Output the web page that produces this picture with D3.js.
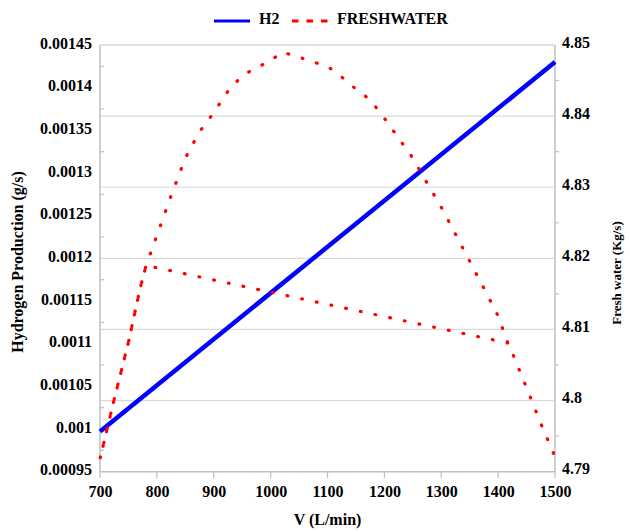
<!DOCTYPE html>
<html>
<head>
<meta charset="utf-8">
<script src="https://cdn.jsdelivr.net/npm/d3@7"></script>
<style>
  body { margin: 0; background: #fff; }
  svg text { font-family: "Liberation Serif", "Times New Roman", serif; font-weight: bold; fill: #000; }
</style>
</head>
<body>
<svg id="chart" width="630" height="532"></svg>
<script>
// Flow rate V (L/min) and hydrogen production (g/s)
const h2Flow = [700, 1500];
const h2Production = [0.000997, 0.00143];

// Fresh water (kg/s) along the operating path, in path order
const freshFlow = [1417, 781, 770, 750, 725, 700, 725, 750, 770, 781, 800, 825, 850, 875, 900,
  925, 950, 975, 1000, 1020, 1050, 1075, 1100, 1125, 1150, 1175, 1200, 1225, 1250, 1275,
  1300, 1325, 1350, 1375, 1400, 1417, 1425, 1450, 1475, 1500];
const freshWater = [4.8081, 4.8190, 4.8156, 4.8082, 4.8002, 4.7918, 4.8002, 4.8082, 4.8156, 4.8190,
  4.8232, 4.8288, 4.8341, 4.8378, 4.8405, 4.8435, 4.8457, 4.8468, 4.8478, 4.8490, 4.8483,
  4.8476, 4.8470, 4.8455, 4.8438, 4.8423, 4.8397, 4.8369, 4.8341, 4.8306, 4.8272, 4.8234,
  4.8196, 4.8158, 4.8119, 4.8081, 4.8067, 4.8018, 4.7968, 4.7921];

// Tick labels
const xTicks = [700, 800, 900, 1000, 1100, 1200, 1300, 1400, 1500];
const leftTicks = [0.00095, 0.001, 0.00105, 0.0011, 0.00115, 0.0012, 0.00125, 0.0013, 0.00135, 0.0014, 0.00145];
const leftLabels = ["0.00095", "0.001", "0.00105", "0.0011", "0.00115", "0.0012", "0.00125", "0.0013", "0.00135", "0.0014", "0.00145"];
const rightTicks = [4.79, 4.80, 4.81, 4.82, 4.83, 4.84, 4.85];
const rightLabels = ["4.79", "4.8", "4.81", "4.82", "4.83", "4.84", "4.85"];

const svg = d3.select("#chart");
const L = 100, R = 555, T = 45, B = 471.7;

const x = d3.scaleLinear().domain([700, 1500]).range([L, R]);
const yL = d3.scaleLinear().domain([0.00095, 0.00145]).range([B, T]);
const yR = d3.scaleLinear().domain([4.79, 4.85]).range([B, T]);

const gridColor = "#d9d9d9";
const axisColor = "#bfbfbf";
const serif = "'Liberation Serif', 'Times New Roman', serif";

// horizontal gridlines (right axis values)
svg.append("g").selectAll("line").data(rightTicks.slice(1, -1)).join("line")
  .attr("x1", L).attr("x2", R)
  .attr("y1", d => yR(d)).attr("y2", d => yR(d))
  .attr("stroke", gridColor).attr("stroke-width", 1.2);

// top border
svg.append("line").attr("x1", L).attr("x2", R).attr("y1", T).attr("y2", T)
  .attr("stroke", gridColor).attr("stroke-width", 1.5);

// axis lines
svg.append("line").attr("x1", L).attr("x2", L).attr("y1", T).attr("y2", B)
  .attr("stroke", axisColor).attr("stroke-width", 1.5);
svg.append("line").attr("x1", R).attr("x2", R).attr("y1", T).attr("y2", B)
  .attr("stroke", axisColor).attr("stroke-width", 1.5);
svg.append("line").attr("x1", L).attr("x2", R).attr("y1", B).attr("y2", B)
  .attr("stroke", axisColor).attr("stroke-width", 1.5);

// minor ticks at half steps
const leftMinor = d3.pairs(leftTicks).map(([a, b]) => (a + b) / 2);
svg.append("g").selectAll("line").data(leftMinor).join("line")
  .attr("x1", L).attr("x2", L + 4)
  .attr("y1", d => yL(d)).attr("y2", d => yL(d))
  .attr("stroke", axisColor).attr("stroke-width", 1.2);
const rightMinor = d3.pairs(rightTicks).map(([a, b]) => (a + b) / 2);
svg.append("g").selectAll("line").data(rightMinor).join("line")
  .attr("x1", R).attr("x2", R + 4)
  .attr("y1", d => yR(d)).attr("y2", d => yR(d))
  .attr("stroke", axisColor).attr("stroke-width", 1.2);
svg.append("g").selectAll("line").data(xTicks).join("line")
  .attr("x1", d => x(d)).attr("x2", d => x(d))
  .attr("y1", B).attr("y2", B + 6.5)
  .attr("stroke", axisColor).attr("stroke-width", 1.2);

// tick labels via d3 axes
const ax = svg.append("g").attr("transform", `translate(0,${B})`)
  .call(d3.axisBottom(x).tickValues(xTicks).tickFormat(d3.format("d")).tickSize(0).tickPadding(14));
const al = svg.append("g").attr("transform", `translate(${L},0)`)
  .call(d3.axisLeft(yL).tickValues(leftTicks).tickFormat((d, i) => leftLabels[i]).tickSize(0).tickPadding(8));
const ar = svg.append("g").attr("transform", `translate(${R},0)`)
  .call(d3.axisRight(yR).tickValues(rightTicks).tickFormat((d, i) => rightLabels[i]).tickSize(0).tickPadding(7));
[ax, al, ar].forEach(g => {
  g.select(".domain").remove();
  g.attr("font-family", serif).attr("font-size", 16).attr("font-weight", "bold");
  g.selectAll("text").attr("fill", "#000");
});
al.selectAll("text").attr("dy", "0.2em");
ar.selectAll("text").attr("dy", "0.13em");

// series
const h2Line = d3.line().x(d => x(d[0])).y(d => yL(d[1]));
svg.append("path")
  .datum(d3.zip(h2Flow, h2Production))
  .attr("d", h2Line)
  .attr("fill", "none").attr("stroke", "#0000ff").attr("stroke-width", 4.5);

const fwLine = d3.line().x(d => x(d[0])).y(d => yR(d[1]));
svg.append("path")
  .datum(d3.zip(freshFlow, freshWater))
  .attr("d", fwLine)
  .attr("fill", "none").attr("stroke", "#ff0000").attr("stroke-width", 3.2)
  .attr("stroke-dasharray", "0.8,14.2").attr("stroke-linecap", "round")
  .attr("stroke-linejoin", "round");

// axis titles
svg.append("text").attr("x", (L + R) / 2).attr("y", 525)
  .attr("text-anchor", "middle").attr("font-size", 16).text("V (L/min)");
svg.append("text").attr("transform", "translate(23,262) rotate(-90)")
  .attr("text-anchor", "middle").attr("font-size", 16).text("Hydrogen Production (g/s)");
svg.append("text").attr("transform", "translate(621,273) rotate(-90)")
  .attr("text-anchor", "middle").attr("font-size", 13).text("Fresh water (Kg/s)");

// legend
const lg = svg.append("g");
lg.append("line").attr("x1", 214).attr("x2", 250).attr("y1", 21).attr("y2", 21)
  .attr("stroke", "#0000ff").attr("stroke-width", 3);
lg.append("text").attr("x", 259).attr("y", 23.5).attr("font-size", 16).text("H2");
lg.append("line").attr("x1", 292).attr("x2", 330).attr("y1", 21).attr("y2", 21)
  .attr("stroke", "#ff0000").attr("stroke-width", 3).attr("stroke-dasharray", "6.5,8");
lg.append("text").attr("x", 337).attr("y", 23.5).attr("font-size", 16).text("FRESHWATER");
</script>
</body>
</html>
